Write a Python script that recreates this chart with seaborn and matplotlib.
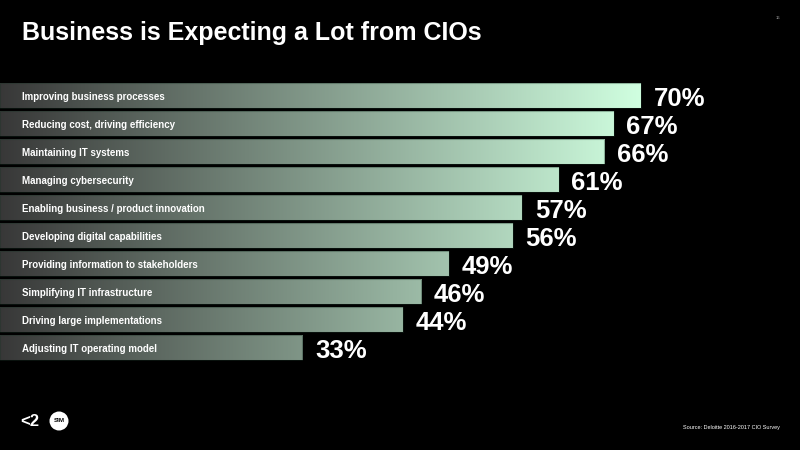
import seaborn as sns
import matplotlib.pyplot as plt
import matplotlib.colors as mcolors
from matplotlib.patches import Ellipse
import numpy as np
import pandas as pd

# Data
categories = [
    "Improving business processes",
    "Reducing cost, driving efficiency",
    "Maintaining IT systems",
    "Managing cybersecurity",
    "Enabling business / product innovation",
    "Developing digital capabilities",
    "Providing information to stakeholders",
    "Simplifying IT infrastructure",
    "Driving large implementations",
    "Adjusting IT operating model",
]
values = [70, 67, 66, 61, 57, 56, 49, 46, 44, 33]
value_labels = ["70%", "67%", "66%", "61%", "57%", "56%", "49%", "46%", "44%", "33%"]

title = "Business is Expecting a Lot from CIOs"
source = "Source: Deloitte 2016-2017 CIO Survey"

df = pd.DataFrame({"task": categories, "share": values})

sns.set_style("dark")
plt.rcParams['font.family'] = ['Liberation Sans', 'DejaVu Sans']

fig = plt.figure(figsize=(8, 4.5), dpi=100, facecolor='black')
ax = fig.add_axes([0, 1 - 361.5 / 450, 1, 280 / 450])
ax.set_facecolor('black')

sns.barplot(data=df, y="task", x="share", orient="h", ax=ax, width=0.92,
            color="#7a9a88", edgecolor='none')

xmax = 800 / 9.157
ax.set_xlim(0, xmax)
ax.set_ylim(9.5, -0.5)

# gradient fill fixed to x position
cmap = mcolors.LinearSegmentedColormap.from_list("g", ["#383838", "#d0ffe0"])
grad = np.linspace(0, 1, 256).reshape(1, -1)
for patch in ax.patches:
    patch.set_facecolor('none')
    patch.set_edgecolor((0.1, 0.2, 0.15, 0.35))
    patch.set_linewidth(0.8)
    patch.set_zorder(3)
    img = ax.imshow(grad, cmap=cmap, aspect='auto', extent=[0, 70, 9.5, -0.5],
                    zorder=2, interpolation='bilinear')
    img.set_clip_path(patch)
    ax.set_xlim(0, xmax)
    ax.set_ylim(9.5, -0.5)

for i, (cat, v, lab) in enumerate(zip(categories, values, value_labels)):
    ax.text(22 / 9.157, i + 0.06, cat, color='white', fontsize=7, fontweight='bold',
            va='center', ha='left', zorder=5)
    ax.text(v + 1.4, i + 0.12, lab, color='white', fontsize=18.5, fontweight='bold',
            va='center', ha='left', zorder=5)

ax.set_xlabel("")
ax.set_ylabel("")
ax.set_xticks([])
ax.set_yticks([])
for s in ax.spines.values():
    s.set_visible(False)

fig.text(22 / 800, 1 - 33 / 450, title, color='white', fontsize=18,
         fontweight='bold', va='center', ha='left')
fig.text(778 / 800, 1 - 18 / 450, "16", color='#aaaaaa', fontsize=3,
         va='center', ha='center')
fig.text(780 / 800, 1 - 427 / 450, source, color='white', fontsize=4,
         va='center', ha='right')

# logos
fig.text(30 / 800, 1 - 421 / 450, "<2", color='white', fontsize=12,
         fontweight='bold', va='center', ha='center')
fig.patches.append(Ellipse((59 / 800, 1 - 421 / 450), 19 / 800, 19 / 450,
                           transform=fig.transFigure, facecolor='white',
                           edgecolor='none'))
fig.text(59 / 800, 1 - 421 / 450, "SIM", color='black', fontsize=4.5,
         fontweight='bold', va='center', ha='center')

fig.savefig("out.png", dpi=100, facecolor='black')
